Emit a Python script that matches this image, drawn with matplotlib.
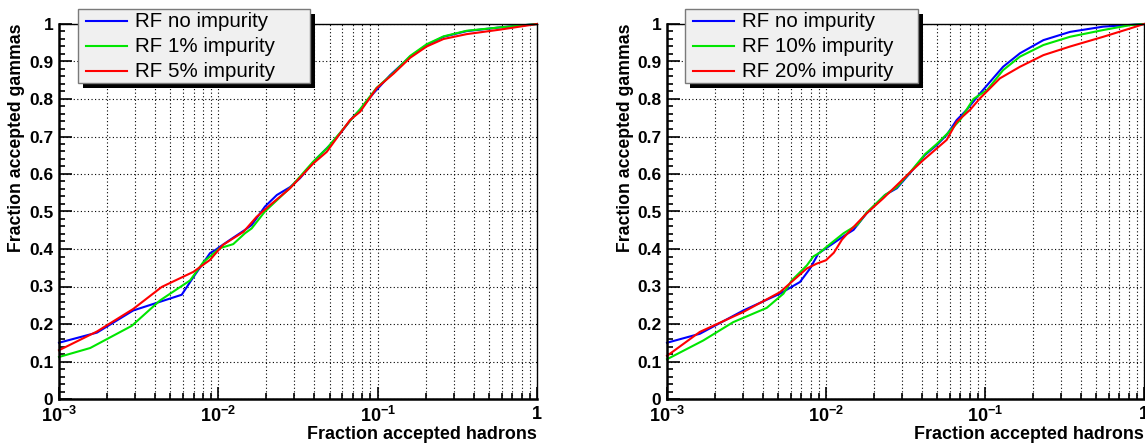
import numpy as np
import matplotlib
matplotlib.use("Agg")
import matplotlib.pyplot as plt
from matplotlib.patches import Rectangle
from matplotlib.lines import Line2D
from matplotlib.ticker import FixedLocator, FuncFormatter, NullFormatter

plt.rcParams["font.family"] = ["Liberation Sans", "DejaVu Sans"]
plt.rcParams["mathtext.fontset"] = "custom"
plt.rcParams["mathtext.rm"] = "Liberation Sans"
plt.rcParams["mathtext.bf"] = "Liberation Sans:bold"

# ---- ROC curves: fraction of hadrons accepted vs fraction of gammas accepted ----
# Left panel
l_none_x = [0.00100, 0.00173, 0.00292, 0.00589, 0.00697, 0.00887, 0.00955, 0.0118, 0.0147,
            0.0162, 0.0196, 0.0233, 0.0282, 0.0326, 0.0415, 0.0502, 0.0581, 0.0703, 0.0776,
            0.0940, 0.120, 0.160, 0.203, 0.259, 0.362, 0.586, 1.0]
l_none_y = [0.150, 0.177, 0.236, 0.278, 0.325, 0.389, 0.397, 0.424, 0.451,
            0.464, 0.513, 0.544, 0.565, 0.589, 0.642, 0.677, 0.708, 0.753, 0.771,
            0.815, 0.864, 0.913, 0.944, 0.966, 0.981, 0.991, 1.0]

l_1pct_x = [0.00100, 0.00157, 0.00286, 0.00431, 0.00664, 0.00805, 0.0102, 0.0124, 0.0147,
            0.0162, 0.0196, 0.0233, 0.0282, 0.0394, 0.0479, 0.0581, 0.0703, 0.0776,
            0.0986, 0.126, 0.160, 0.203, 0.259, 0.362, 0.586, 1.0]
l_1pct_y = [0.112, 0.136, 0.195, 0.263, 0.316, 0.365, 0.402, 0.413, 0.442,
            0.455, 0.500, 0.530, 0.563, 0.633, 0.668, 0.710, 0.752, 0.773,
            0.830, 0.870, 0.915, 0.946, 0.967, 0.982, 0.991, 1.0]

l_5pct_x = [0.00100, 0.00173, 0.00292, 0.00442, 0.00697, 0.00887, 0.0107, 0.0144, 0.0174,
            0.0211, 0.0282, 0.0394, 0.0479, 0.0581, 0.0671, 0.0776, 0.0986, 0.126,
            0.160, 0.203, 0.259, 0.362, 0.586, 1.0]
l_5pct_y = [0.130, 0.180, 0.240, 0.299, 0.339, 0.371, 0.411, 0.446, 0.486,
            0.517, 0.562, 0.628, 0.659, 0.708, 0.744, 0.766, 0.829, 0.868,
            0.910, 0.940, 0.960, 0.973, 0.985, 1.0]

# Right panel
r_none_x = [0.00100, 0.00161, 0.00302, 0.00514, 0.00686, 0.00794, 0.00895, 0.0111, 0.0132,
            0.0149, 0.0180, 0.0235, 0.0279, 0.0337, 0.0420, 0.0497, 0.0574, 0.0664,
            0.0767, 0.0931, 0.130, 0.166, 0.233, 0.343, 0.555, 1.0]
r_none_y = [0.150, 0.174, 0.236, 0.281, 0.312, 0.348, 0.388, 0.415, 0.437,
            0.451, 0.495, 0.544, 0.562, 0.602, 0.651, 0.677, 0.704, 0.744,
            0.771, 0.815, 0.886, 0.922, 0.957, 0.979, 0.993, 1.0]

r_10pct_x = [0.00100, 0.00169, 0.00261, 0.00424, 0.00540, 0.00608, 0.00757, 0.00832, 0.00912,
             0.0101, 0.0129, 0.0158, 0.0180, 0.0235, 0.0279, 0.0337, 0.0420, 0.0497,
             0.0574, 0.0697, 0.0845, 0.103, 0.130, 0.166, 0.233, 0.343, 0.555, 0.817, 1.0]
r_10pct_y = [0.106, 0.156, 0.205, 0.243, 0.281, 0.316, 0.356, 0.380, 0.390,
             0.406, 0.442, 0.465, 0.497, 0.544, 0.565, 0.604, 0.653, 0.680,
             0.706, 0.744, 0.800, 0.824, 0.877, 0.913, 0.944, 0.966, 0.984, 0.997, 1.0]

r_20pct_x = [0.00100, 0.00161, 0.00302, 0.00514, 0.00757, 0.00875, 0.0100, 0.0112, 0.0126,
             0.0141, 0.0180, 0.0229, 0.0337, 0.0409, 0.0574, 0.0664, 0.0805, 0.0931,
             0.124, 0.166, 0.233, 0.343, 0.555, 0.817, 1.0]
r_20pct_y = [0.115, 0.179, 0.232, 0.285, 0.348, 0.361, 0.370, 0.390, 0.425,
             0.448, 0.495, 0.535, 0.604, 0.637, 0.691, 0.739, 0.771, 0.802,
             0.855, 0.886, 0.917, 0.940, 0.966, 0.988, 1.0]

left_labels = ["RF no impurity", "RF 1% impurity", "RF 5% impurity"]
right_labels = ["RF no impurity", "RF 10% impurity", "RF 20% impurity"]
colors = ["#0000ff", "#00e600", "#ff0000"]

y_ticks = [0.0, 0.1, 0.2, 0.3, 0.4, 0.5, 0.6, 0.7, 0.8, 0.9, 1.0]
y_ticklabels = ["0", "0.1", "0.2", "0.3", "0.4", "0.5", "0.6", "0.7", "0.8", "0.9", "1"]
x_major = [1e-3, 1e-2, 1e-1, 1.0]

W, H = 1145, 444
fig = plt.figure(figsize=(W / 100, H / 100), dpi=100)
fig.patch.set_facecolor("white")


def fpos(x, y):
    return x / W, 1 - y / H


def xfmt(v, _):
    e = int(round(np.log10(v)))
    if e == 0:
        return r"$\mathbf{1}$"
    return r"$\mathbf{10^{%d}}$" % e


def style_axes(ax):
    ax.set_xscale("log")
    ax.set_xlim(1e-3, 1.0)
    ax.set_ylim(0, 1)
    ax.xaxis.set_major_locator(FixedLocator(x_major))
    minors = [m * 10.0 ** e for e in (-3, -2, -1) for m in range(2, 10)]
    ax.xaxis.set_minor_locator(FixedLocator(minors))
    ax.xaxis.set_major_formatter(FuncFormatter(xfmt))
    ax.xaxis.set_minor_formatter(NullFormatter())
    ax.set_yticks(y_ticks)
    ax.set_yticklabels(y_ticklabels)
    ax.set_yticks(np.arange(0, 1.0001, 0.02), minor=True)
    ax.tick_params(which="both", direction="in", top=False, right=False, width=1.2, color="black")
    ax.tick_params(which="major", length=9)
    ax.tick_params(which="minor", length=4.5)
    ax.tick_params(axis="y", which="major", pad=4, labelsize=12.5)
    ax.tick_params(axis="x", which="major", pad=5, labelsize=13)
    for lab in ax.get_yticklabels():
        lab.set_fontweight("bold")
    ax.grid(True, which="major", axis="both", linestyle=(0, (1, 2.2)), color="black", linewidth=0.8)
    ax.grid(True, which="minor", axis="x", linestyle=(0, (1, 2.2)), color="black", linewidth=0.8)
    for s in ("left", "bottom"):
        ax.spines[s].set_linewidth(1.8)
    for s in ("top", "right"):
        ax.spines[s].set_linewidth(1.0)
    ax.set_axisbelow(True)
    ax.set_xlabel("Fraction accepted hadrons", fontsize=12.9, fontweight="bold", loc="right")
    ax.xaxis.set_label_coords(1.0, -0.071)
    ax.xaxis.label.set_va("top")
    ax.set_ylabel("Fraction accepted gammas", fontsize=12.7, fontweight="bold", loc="top")
    ax.yaxis.set_label_coords(-0.088, 1.0)
    ax.yaxis.label.set_va("center")


def draw_legend(x0, y0, w, h, labels):
    sx, sy = fpos(x0 + 5, y0 + h + 5)
    fw, fh = w / W, h / H
    fig.patches.append(Rectangle((sx, sy), fw, fh, transform=fig.transFigure,
                                 facecolor="black", edgecolor="none", zorder=10))
    bx, by = fpos(x0, y0 + h)
    fig.patches.append(Rectangle((bx, by), fw, fh, transform=fig.transFigure,
                                 facecolor="#f0f0f0", edgecolor="#7a7a7a", linewidth=1.0, zorder=11))
    for i, (lab, c) in enumerate(zip(labels, colors)):
        yy = y0 + 12.5 + 25 * i
        xa, ya = fpos(x0 + 8, yy)
        xb, _ = fpos(x0 + 49, yy)
        fig.lines.append(Line2D([xa, xb], [ya, ya], transform=fig.transFigure,
                                color=c, linewidth=1.5, zorder=12))
        xt, yt = fpos(x0 + 57, yy)
        fig.text(xt, yt, lab, fontsize=14.8, va="center", ha="left", zorder=12)


ax1 = fig.add_axes([59 / W, 45 / H, 478 / W, 375 / H])
ax2 = fig.add_axes([667 / W, 45 / H, 477 / W, 375 / H])

for ax, series in ((ax1, [(l_none_x, l_none_y), (l_1pct_x, l_1pct_y), (l_5pct_x, l_5pct_y)]),
                   (ax2, [(r_none_x, r_none_y), (r_10pct_x, r_10pct_y), (r_20pct_x, r_20pct_y)])):
    style_axes(ax)
    for (xs, ys), c in zip(series, colors):
        ax.plot(xs, ys, color=c, linewidth=1.5, clip_on=False)

draw_legend(78, 9, 232, 74, left_labels)
draw_legend(685, 9, 233, 74, right_labels)

fig.savefig("out.png", dpi=100)
